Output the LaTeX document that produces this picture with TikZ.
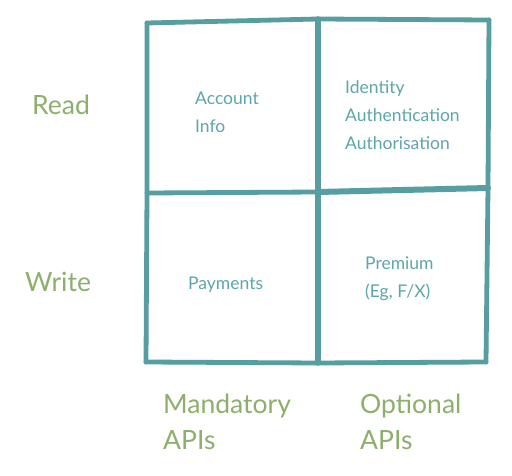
\documentclass[tikz,border=0pt]{standalone}
\usepackage{fontspec}
\setmainfont{Lato}
\definecolor{gridteal}{HTML}{569EA2}
\definecolor{cellteal}{HTML}{5CA6AC}
\definecolor{axisgreen}{HTML}{8DAF6C}
\begin{document}
\begin{tikzpicture}[x=1pt,y=-1pt,
  gridline/.style={draw=gridteal,line width=4.8pt,line cap=round,line join=round},
  celltext/.style={text=cellteal,font=\fontsize{17.5}{28}\selectfont,align=left,anchor=west,inner sep=0pt},
  axistext/.style={text=axisgreen,font=\fontsize{26.5}{36}\selectfont,align=left,anchor=west,inner sep=0pt}]
\useasboundingbox (0,0) rectangle (512,476);
\fill[white] (0,0) rectangle (512,476);
% grid corners
\coordinate (TL) at (147,23);
\coordinate (TM) at (318,19);
\coordinate (TR) at (489,20);
\coordinate (ML) at (147,193);
\coordinate (MM) at (318,192);
\coordinate (MR) at (488,188);
\coordinate (BL) at (146,362);
\coordinate (BM) at (318,363);
\coordinate (BR) at (486,362);
% grid lines
\draw[gridline] (TL) -- (TM) -- (TR);
\draw[gridline] (ML) -- (MM);
\draw[gridline,line width=6pt] (MM) -- (MR);
\draw[gridline] (BL) -- (BM) -- (BR);
\draw[gridline] (TL) -- (ML) -- (BL);
\draw[gridline,line width=5.5pt] (TM) -- (MM) -- (BM);
\draw[gridline] (TR) -- (MR) -- (BR);
% cell texts
\node[celltext] (acc) at (195,112) {Account\\Info};
\node[celltext] (iaa) at (345,115) {Identity\\Authentication\\Authorisation};
\node[celltext] (pay) at (188,285) {Payments};
\node[celltext] (pre) at (365,279) {Premium\\(Eg, F/X)};
% axis labels
\node[axistext] (read) at (32,105) {Read};
\node[axistext] (write) at (25,282) {Write};
\node[axistext] (mand) at (163,422) {Mandatory\\APIs};
\node[axistext] (opt) at (360,422) {Optional\\APIs};
\end{tikzpicture}
\end{document}
